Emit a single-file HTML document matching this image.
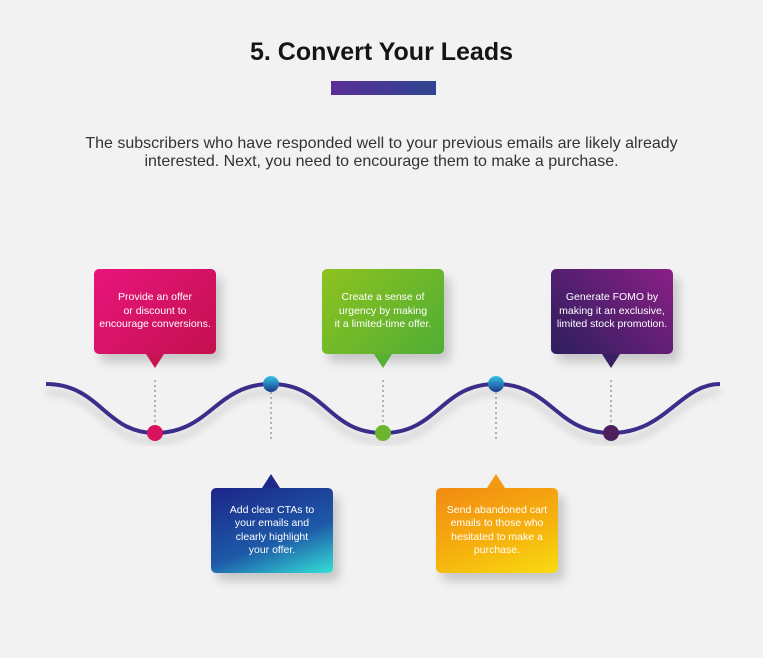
<!DOCTYPE html>
<html><head><style>
body{margin:0;width:763px;height:658px;background:#f2f2f2;position:relative;overflow:hidden;font-family:"Liberation Sans",sans-serif}
.t{position:absolute;left:0;width:763px;text-align:center;top:38px;font-size:25px;font-weight:bold;color:#151515}
.bar{position:absolute;left:331px;top:81px;width:105px;height:14px;background:linear-gradient(90deg,#5a2f96,#2f4592)}
.p{position:absolute;left:40px;width:683px;top:135px;text-align:center;font-size:16px;line-height:18px;color:#333}
.b{position:absolute;width:122px;height:85px;border-radius:5px;color:#fff;font-size:10.5px;line-height:13.5px;text-align:center;box-sizing:border-box;padding:0;white-space:nowrap;display:flex;align-items:center;justify-content:center;box-shadow:6px 8px 10px rgba(0,0,0,.18)}
.up{position:absolute;width:0;height:0;border-left:9px solid transparent;border-right:9px solid transparent}
</style></head><body>
<div class="t">5. Convert Your Leads</div>
<div class="bar"></div>
<div class="p">The subscribers who have responded well to your previous emails are likely already<br>interested. Next, you need to encourage them to make a purchase.</div>
<svg width="763" height="658" style="position:absolute;left:0;top:0">
<defs><filter id="s"><feGaussianBlur stdDeviation="4"/></filter></defs>
<path d="M46,392 C100,392 105,441 155,441 C210,441 216,392 271,392 C326,392 328,441 383,441 C438,441 441,392 496,392 C551,392 556,441 611,441 C666,441 680,392 720,392" stroke="#000" stroke-opacity=".15" stroke-width="5" fill="none" filter="url(#s)"/>
<path d="M46,384 C100,384 105,433 155,433 C210,433 216,384 271,384 C326,384 328,433 383,433 C438,433 441,384 496,384 C551,384 556,433 611,433 C666,433 680,384 720,384" stroke="#3a2e8a" stroke-width="4" fill="none"/>
<g stroke="#999" stroke-width="1.5" stroke-dasharray="2,3">
<line x1="155" y1="380" x2="155" y2="426"/><line x1="383" y1="380" x2="383" y2="426"/><line x1="611" y1="380" x2="611" y2="426"/>
<line x1="271" y1="392" x2="271" y2="440"/><line x1="496" y1="392" x2="496" y2="440"/>
</g>
<circle cx="155" cy="433" r="8" fill="#d8125f"/>
<circle cx="383" cy="433" r="8" fill="#6db52e"/>
<circle cx="611" cy="433" r="8" fill="#4d1f5e"/>
<defs><linearGradient id="bl" x1="0" y1="0" x2="0" y2="1"><stop offset="0" stop-color="#35c3e6"/><stop offset="1" stop-color="#1a3a8c"/></linearGradient></defs>
<circle cx="271" cy="384" r="8" fill="url(#bl)"/>
<circle cx="496" cy="384" r="8" fill="url(#bl)"/>
</svg>
<div class="b" style="left:94px;top:269px;background:linear-gradient(135deg,#e8157c,#c4104f)">Provide an offer<br>or discount to<br>encourage conversions.</div>
<div class="up" style="left:146px;top:354px;border-top:14px solid #c81254"></div>
<div class="b" style="left:322px;top:269px;background:linear-gradient(135deg,#8ec21f,#4fae35)">Create a sense of<br>urgency by making<br>it a limited-time offer.</div>
<div class="up" style="left:374px;top:354px;border-top:14px solid #56b033"></div>
<div class="b" style="left:551px;top:269px;background:linear-gradient(45deg,#2c1f5e,#8a1f86)">Generate FOMO by<br>making it an exclusive,<br>limited stock promotion.</div>
<div class="up" style="left:602px;top:354px;border-top:14px solid #3a1f62"></div>
<div class="up" style="left:262px;top:474px;border-bottom:14px solid #1e2a8a"></div>
<div class="b" style="left:211px;top:488px;background:linear-gradient(160deg,#1d2488,#1d5aa8 60%,#34e0d8)">Add clear CTAs to<br>your emails and<br>clearly highlight<br>your offer.</div>
<div class="up" style="left:487px;top:474px;border-bottom:14px solid #f39a12"></div>
<div class="b" style="left:436px;top:488px;background:linear-gradient(160deg,#f28a12,#f6b40e 60%,#f8dc10)">Send abandoned cart<br>emails to those who<br>hesitated to make a<br>purchase.</div>
</body></html>
